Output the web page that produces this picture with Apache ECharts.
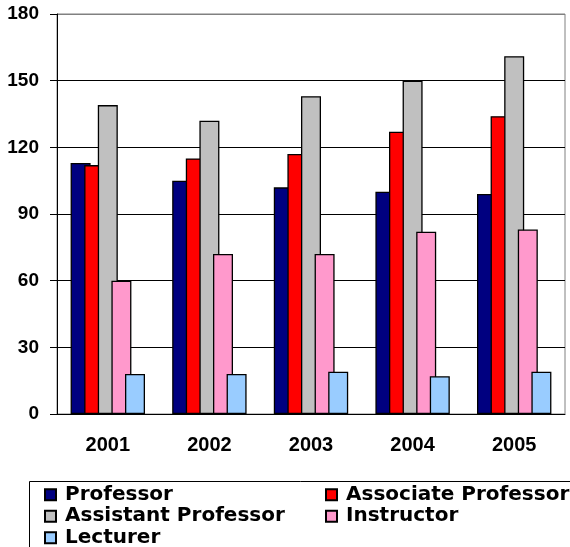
<!DOCTYPE html>
<html>
<head>
<meta charset="utf-8">
<script src="https://cdn.jsdelivr.net/npm/echarts@6/dist/echarts.min.js"></script>
<style>
html,body{margin:0;padding:0;background:#fff;}
#chart{width:570px;height:547px;}
</style>
</head>
<body>
<div id="chart"></div>
<script>
var years = ['2001', '2002', '2003', '2004', '2005'];
var professor = [113, 105, 102, 100, 99];
var associateProfessor = [112, 115, 117, 127, 134];
var assistantProfessor = [139, 132, 143, 150, 161];
var instructor = [60, 72, 72, 82, 83];
var lecturer = [18, 18, 19, 17, 19];
var yTicks = [0, 30, 60, 90, 120, 150, 180];

var FONT = '"Liberation Sans", Arial, sans-serif';
var LFONT = '"DejaVu Sans", "Liberation Sans", Arial, sans-serif';
var chart = echarts.init(document.getElementById('chart'), null, {renderer: 'canvas'});

function bar(name, data, color) {
  return {
    name: name, type: 'bar', data: data,
    barWidth: 20, barGap: '-32%',
    itemStyle: {color: color, borderColor: '#000', borderWidth: 1.3},
    emphasis: {disabled: true}
  };
}

var legendText = {fontFamily: LFONT, fontWeight: 'bold', fontSize: 20, color: '#000', lineHeight: 21.5, padding: [0, 0, 0, 4]};

chart.setOption({
  animation: false,
  grid: {left: 57, right: 5, top: 14, bottom: 133, show: true, borderColor: '#808080', borderWidth: 1},
  xAxis: {
    type: 'category', data: years,
    axisLine: {lineStyle: {color: '#000', width: 1}},
    axisTick: {length: 7, lineStyle: {color: '#000'}},
    axisLabel: {fontFamily: FONT, fontWeight: 'bold', fontSize: 20, color: '#000', margin: 21}
  },
  yAxis: {
    type: 'value', min: yTicks[0], max: yTicks[yTicks.length - 1], interval: 30,
    axisLine: {show: true, lineStyle: {color: '#000', width: 1}},
    axisTick: {show: true, length: 7, lineStyle: {color: '#000'}},
    axisLabel: {fontFamily: FONT, fontWeight: 'bold', fontSize: 19, color: '#000', margin: 18},
    splitLine: {lineStyle: {color: ['#000', '#000', '#000', '#000', '#000', '#000', '#808080'], width: 1}}
  },
  legend: [
    {
      orient: 'vertical', left: 44, top: 484, height: 120, padding: 0, itemGap: 0,
      itemWidth: 11, itemHeight: 11, icon: 'rect',
      data: ['Professor', 'Assistant Professor', 'Lecturer'],
      textStyle: legendText, selectedMode: false
    },
    {
      orient: 'vertical', left: 325, top: 484, height: 120, padding: 0, itemGap: 0,
      itemWidth: 11, itemHeight: 11, icon: 'rect',
      data: ['Associate Professor', 'Instructor'],
      textStyle: legendText, selectedMode: false
    }
  ],
  graphic: [{
    type: 'rect', left: 27, top: 479, silent: true,
    shape: {width: 600, height: 67},
    style: {fill: 'none', stroke: '#000', lineWidth: 1}
  }],
  series: [
    bar('Professor', professor, '#000080'),
    bar('Associate Professor', associateProfessor, '#FF0000'),
    bar('Assistant Professor', assistantProfessor, '#C0C0C0'),
    bar('Instructor', instructor, '#FF99CC'),
    bar('Lecturer', lecturer, '#99CCFF')
  ]
});
</script>
</body>
</html>
